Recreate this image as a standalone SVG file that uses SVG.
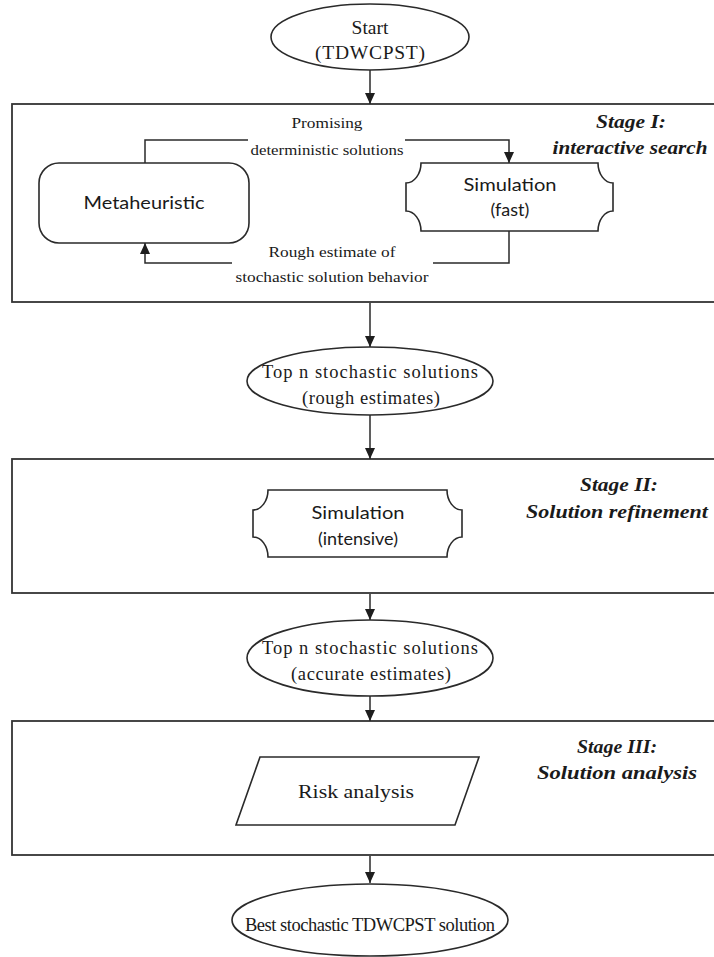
<svg xmlns="http://www.w3.org/2000/svg" width="714" height="957" viewBox="0 0 714 957">
<defs>
<marker id="ah" markerUnits="userSpaceOnUse" markerWidth="12" markerHeight="12" refX="11" refY="5" orient="auto">
<path d="M0,0 L11,5 L0,10 Z" fill="#1e1e1e"/>
</marker>
<style>
.stage{fill:none;stroke:#333;stroke-width:1.8}
.shape{fill:#fff;stroke:#2a2a2a;stroke-width:1.6}
.conn{fill:none;stroke:#2a2a2a;stroke-width:1.5}
.tnr{font-family:"Liberation Serif","Times New Roman",serif;fill:#1a1a1a;text-anchor:middle}
.cal{font-family:Lato,"Open Sans",sans-serif;fill:#1a1a1a;text-anchor:middle}
.lbl{font-family:"Liberation Serif","Times New Roman",serif;font-weight:bold;font-style:italic;fill:#1a1a1a;text-anchor:middle;font-size:18px}
.small{font-family:"Liberation Serif","Times New Roman",serif;fill:#1a1a1a;text-anchor:middle;font-size:15.5px}
</style>
</defs>
<rect width="714" height="957" fill="#fff"/>

<g id="stage1">
<rect class="stage" x="12" y="104" width="712" height="198"/>
<text class="lbl" x="631" y="128" textLength="70" lengthAdjust="spacingAndGlyphs">Stage I:</text>
<text class="lbl" x="630" y="154" textLength="155" lengthAdjust="spacingAndGlyphs">interactive search</text>
</g>
<g id="stage2">
<rect class="stage" x="12" y="459" width="712" height="134"/>
<text class="lbl" x="619" y="491" textLength="78" lengthAdjust="spacingAndGlyphs">Stage II:</text>
<text class="lbl" x="617" y="518" textLength="182" lengthAdjust="spacingAndGlyphs">Solution refinement</text>
</g>
<g id="stage3">
<rect class="stage" x="12" y="721" width="712" height="134"/>
<text class="lbl" x="617" y="753" textLength="80" lengthAdjust="spacingAndGlyphs">Stage III:</text>
<text class="lbl" x="617" y="779" textLength="160" lengthAdjust="spacingAndGlyphs">Solution analysis</text>
</g>

<g id="connectors">
<line class="conn" x1="370" y1="70" x2="370" y2="104" marker-end="url(#ah)"/>
<line class="conn" x1="370" y1="303" x2="370" y2="347" marker-end="url(#ah)"/>
<line class="conn" x1="370" y1="415" x2="370" y2="459" marker-end="url(#ah)"/>
<line class="conn" x1="370" y1="594" x2="370" y2="620" marker-end="url(#ah)"/>
<line class="conn" x1="370" y1="696" x2="370" y2="721" marker-end="url(#ah)"/>
<line class="conn" x1="370" y1="856" x2="370" y2="883" marker-end="url(#ah)"/>
<polyline class="conn" points="145,163 145,140 248,140"/>
<polyline class="conn" points="405,140 509,140 509,163" marker-end="url(#ah)"/>
<polyline class="conn" points="509,231 509,263 433,263"/>
<polyline class="conn" points="232,263 145,263 145,243" marker-end="url(#ah)"/>
<text class="small" x="327" y="128" textLength="71" lengthAdjust="spacingAndGlyphs">Promising</text>
<text class="small" x="327" y="155" textLength="153" lengthAdjust="spacingAndGlyphs">deterministic solutions</text>
<text class="small" x="332" y="257" textLength="127" lengthAdjust="spacingAndGlyphs">Rough estimate of</text>
<text class="small" x="332" y="282" textLength="193" lengthAdjust="spacingAndGlyphs">stochastic solution behavior</text>
</g>

<g id="start">
<ellipse class="shape" cx="370" cy="37" rx="99" ry="33"/>
<text class="tnr" x="370" y="34" font-size="19.5">Start</text>
<text class="tnr" x="370" y="59" font-size="19.5" textLength="110" lengthAdjust="spacing">(TDWCPST)</text>
</g>

<g id="metaheuristic">
<rect class="shape" x="39" y="163" width="210" height="80" rx="20" ry="20"/>
<text class="cal" x="144" y="209" font-size="18" textLength="121" lengthAdjust="spacingAndGlyphs">Metaheuristic</text>
</g>

<g id="simulation-fast">
<path class="shape" d="M421,163 L598,163 A15 20 0 0 0 613,183 L613,211 A15 20 0 0 0 598,231 L421,231 A15 20 0 0 0 406,211 L406,183 A15 20 0 0 0 421,163 Z"/>
<text class="cal" x="510" y="191" font-size="18" textLength="93" lengthAdjust="spacingAndGlyphs">Simulation</text>
<text class="cal" x="510" y="216" font-size="18">(fast)</text>
</g>

<g id="top-n-rough">
<ellipse class="shape" cx="370" cy="381" rx="123" ry="34"/>
<text class="tnr" x="370" y="378" font-size="18.5" textLength="216" lengthAdjust="spacing">Top n stochastic solutions</text>
<text class="tnr" x="371" y="404" font-size="18.5" textLength="138" lengthAdjust="spacing">(rough estimates)</text>
</g>

<g id="simulation-intensive">
<path class="shape" d="M268,490 L447,490 A15 20 0 0 0 462,510 L462,537 A15 20 0 0 0 447,557 L268,557 A15 20 0 0 0 253,537 L253,510 A15 20 0 0 0 268,490 Z"/>
<text class="cal" x="358" y="519" font-size="18" textLength="93" lengthAdjust="spacingAndGlyphs">Simulation</text>
<text class="cal" x="358" y="545" font-size="18">(intensive)</text>
</g>

<g id="top-n-accurate">
<ellipse class="shape" cx="370" cy="658" rx="123" ry="38"/>
<text class="tnr" x="370" y="654" font-size="18.5" textLength="216" lengthAdjust="spacing">Top n stochastic solutions</text>
<text class="tnr" x="371" y="680" font-size="18.5" textLength="160" lengthAdjust="spacing">(accurate estimates)</text>
</g>

<g id="risk-analysis">
<polygon class="shape" points="260,757 479,757 455,825 236,825"/>
<text class="tnr" x="356" y="798" font-size="19.5" textLength="116" lengthAdjust="spacingAndGlyphs">Risk analysis</text>
</g>

<g id="best-solution">
<ellipse class="shape" cx="370" cy="920" rx="138" ry="36"/>
<text class="tnr" x="370" y="931" font-size="18.5" textLength="250" lengthAdjust="spacing">Best stochastic TDWCPST solution</text>
</g>
</svg>
